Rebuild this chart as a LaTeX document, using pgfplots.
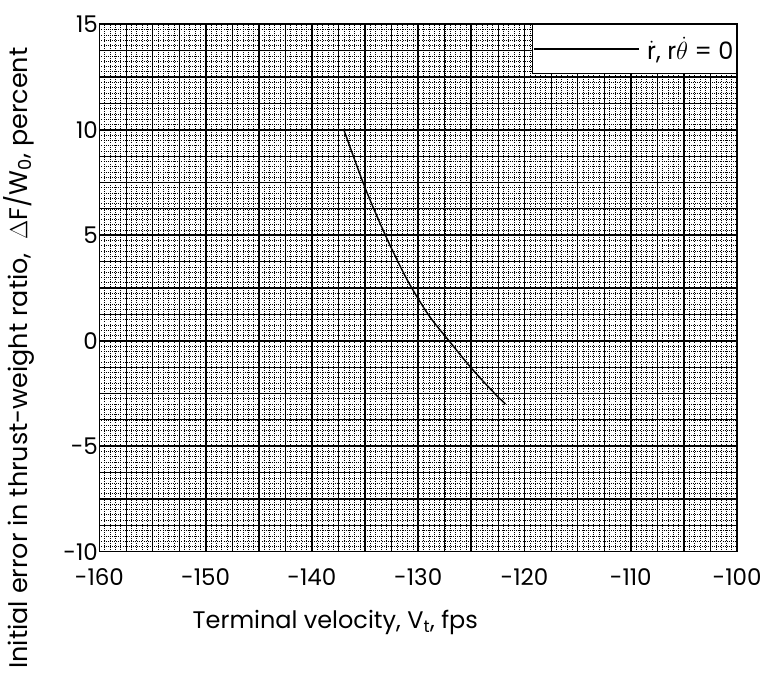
\documentclass[border=0pt]{standalone}
\usepackage{fontspec}
\setmainfont{Poppins}
\usepackage{pgfplots}
\pgfplotsset{compat=1.18}

\begin{document}
\begin{tikzpicture}
\begin{axis}[
    scale only axis,
    width=636bp, height=526bp,
    xmin=-160, xmax=-100,
    ymin=-10, ymax=15,
    xtick={-160,-155,...,-100},
    xticklabels={-160,,-150,,-140,,-130,,-120,,-110,,-100},
    ytick={-10,-7.5,...,15},
    yticklabels={-10,,-5,,0,,5,,10,,15},
    minor x tick num=9,
    minor y tick num=9,
    extra x ticks={-157.5,-152.5,...,-102.5},
    extra y ticks={-8.75,-6.25,...,13.75},
    extra x tick labels={},
    extra y tick labels={},
    extra tick style={grid=major, major grid style={line width=0.8bp, black}},
    grid=both,
    major grid style={line width=1.7bp, black},
    minor grid style={line width=0.5bp, black, dash pattern=on 0.7bp off 1.4bp},
    major tick length=0pt, minor tick length=0pt,
    axis line style={line width=1.7bp},
    tick label style={font=\fontsize{23}{28}\selectfont},
    xticklabel style={yshift=-13bp},
    yticklabel style={xshift=2bp},
    clip=false,
    legend style={at={(rel axis cs:1,1)}, anchor=north east, draw=black, line width=1.2bp,
        fill=white, inner xsep=1bp, inner ysep=10bp,
        font=\fontsize{24}{28}\selectfont,
        /tikz/every odd column/.append style={column sep=5bp}},
    legend image code/.code={\draw[#1] (0bp,0bp) -- (105bp,0bp);},
]
% curve
\addplot[smooth, line width=1.4bp, black] coordinates {
    (-137.0,10.0) (-135.0,7.25) (-133.0,4.9) (-131.0,2.85) (-129.0,1.2)
    (-127.0,-0.07) (-125.0,-1.3) (-123.0,-2.4) (-121.8,-3.0)
};
\addlegendentry{$\dot{\mbox{r}}$, r$\dot\theta$ = 0}

\node[anchor=base, font=\fontsize{24}{28}\selectfont] at (rel axis cs:0.37,-0.146)
    {Terminal velocity, V\textsubscript{t}, fps};
\node[anchor=base, rotate=90, font=\fontsize{25.5}{30}\selectfont] at (rel axis cs:-0.113,0.367)
    {Initial error in thrust-weight ratio,\ \ $\Delta$F/W\textsubscript{0}, percent};
\path (rel axis cs:-0.154,-0.262) rectangle (rel axis cs:1.047,1.046);
\end{axis}
\end{tikzpicture}
\end{document}
